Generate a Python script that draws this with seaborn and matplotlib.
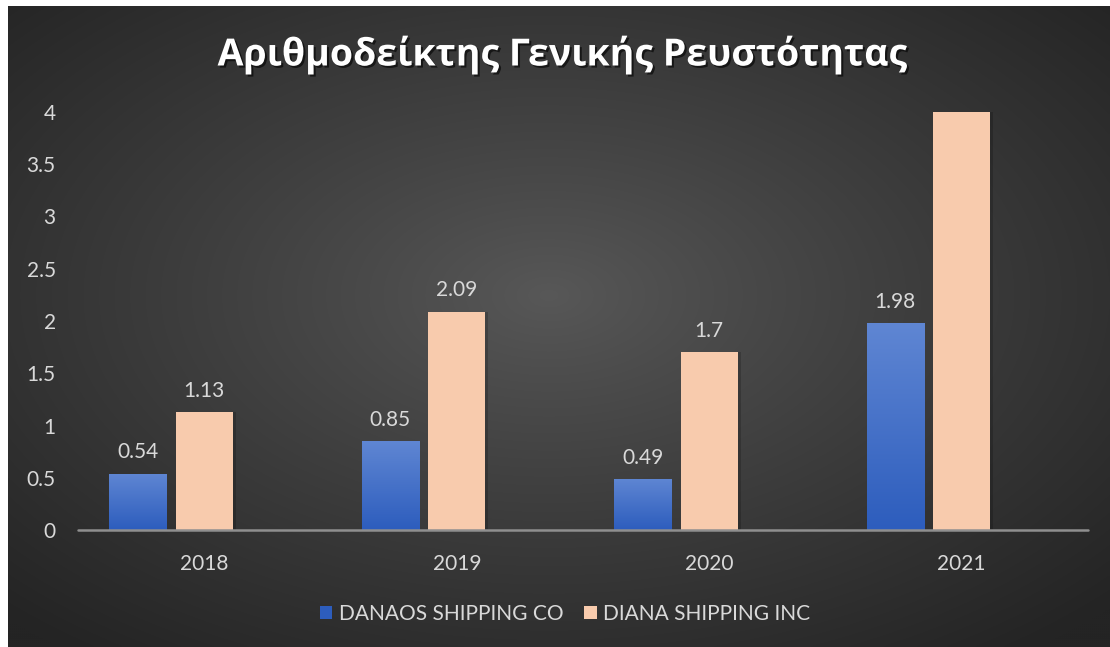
import matplotlib
matplotlib.use("Agg")
import matplotlib.pyplot as plt
import matplotlib.patheffects as pe
from matplotlib.patches import Patch, Rectangle
import seaborn as sns
import numpy as np, pandas as pd

# ---------------- data ----------------
years = ["2018", "2019", "2020", "2021"]
danaos = [0.54, 0.85, 0.49, 1.98]
diana = [1.13, 2.09, 1.70, 4.00]
danaos_labels = ["0.54", "0.85", "0.49", "1.98"]
diana_labels = ["1.13", "2.09", "1.7", ""]
series = ["DANAOS SHIPPING CO", "DIANA SHIPPING INC", "_empty"]
title = "Αριθμοδείκτης Γενικής Ρευστότητας"

BLUE_TOP, BLUE_BOT = "#5f86d3", "#2d5dbd"
PEACH = "#f8cbad"
TXT = "#d9d9d9"

df = pd.DataFrame({
    "Year": years * 2,
    "Series": [series[0]] * len(years) + [series[1]] * len(years),
    "Value": danaos + diana,
})

sns.set_theme(style="white")
plt.rcParams["font.family"] = ["Lato", "DejaVu Sans"]

W, H = 1110, 647
fig = plt.figure(figsize=(W / 100, H / 100), dpi=100)
fig.patch.set_facecolor("white")

# ---------- dark radial background ----------
bg = fig.add_axes([8 / W, 0, 1 - 8 / W, 1 - 6 / H])
bh, bw = 320, 551
yy, xx = np.mgrid[0:bh, 0:bw]
r = np.sqrt(((xx - 0.49 * bw) / bw) ** 2 + ((yy - 0.45 * bh) / bh) ** 2)
v = 88 - 52 * np.clip(r / 0.70, 0, 1) ** 0.9
img = np.dstack([v, v, v]) / 255.0
bg.imshow(img, aspect="auto", extent=[0, 1, 0, 1], origin="upper", interpolation="bicubic")
bg.set_axis_off()

# ---------- bars ----------
ax = fig.add_axes([78 / W, 1 - 530 / H, (1088 - 78) / W, (530 - 112) / H])
ax.set_facecolor("none")
sns.barplot(data=df, x="Year", y="Value", hue="Series", order=years, hue_order=series,
            palette=[BLUE_BOT, PEACH, "#999999"], width=0.79, gap=0.14, saturation=1,
            errorbar=None, legend=False, linewidth=0, ax=ax)

blue_bars = ax.containers[0]
peach_bars = ax.containers[1]

# blue gradient (light top -> darker bottom)
grad = np.linspace(0, 1, 100)[:, None]
c1 = np.array(matplotlib.colors.to_rgb(BLUE_TOP))
c2 = np.array(matplotlib.colors.to_rgb(BLUE_BOT))
gimg = c1[None, None, :] * (1 - grad[:, :, None]) + c2[None, None, :] * grad[:, :, None]
for b in blue_bars:
    x0, y0 = b.get_x(), b.get_y()
    im = ax.imshow(gimg, aspect="auto", extent=[x0, x0 + b.get_width(), y0, y0 + b.get_height()],
                   origin="upper", zorder=b.get_zorder() + 0.1, interpolation="bilinear")
    im.set_clip_path(b)

# soft shadow behind peach bars
for b in peach_bars:
    ax.add_patch(Rectangle((b.get_x() + 0.012, 0), b.get_width(), b.get_height(),
                           color="black", alpha=0.18, lw=0, zorder=b.get_zorder() - 0.1))

ax.bar_label(blue_bars, labels=danaos_labels, padding=8, color=TXT, fontsize=15)
ax.bar_label(peach_bars, labels=diana_labels, padding=8, color=TXT, fontsize=15)

ax.set_ylim(0, 4)
ax.set_xlim(-0.5, 3.5)
ax.set_yticks(np.arange(0, 4.01, 0.5))
ax.set_yticklabels(["0", "0.5", "1", "1.5", "2", "2.5", "3", "3.5", "4"])
ax.tick_params(axis="both", length=0, colors=TXT, labelsize=15)
ax.tick_params(axis="y", pad=16)
ax.tick_params(axis="x", pad=17)
ax.set_xlabel("")
ax.set_ylabel("")
for s in ax.spines.values():
    s.set_visible(False)
ax.axhline(0, color="#8f8f8f", lw=1.8, zorder=5, clip_on=False)
ax.grid(False)

# ---------- title ----------
fig.text(0.506, 1 - 55 / H, title, ha="center", va="center", color="white",
         fontsize=27, fontweight="bold", family=["Open Sans", "DejaVu Sans"],
         path_effects=[pe.withSimplePatchShadow(offset=(1.5, -1.5), shadow_rgbFace="black", alpha=0.6)])

# ---------- legend ----------
handles = [Patch(facecolor=BLUE_BOT, edgecolor="none"), Patch(facecolor=PEACH, edgecolor="none")]
leg = fig.legend(handles, series[:2], loc="center", bbox_to_anchor=(565 / W, 1 - 614 / H),
                 ncol=2, frameon=False, fontsize=15, handlelength=0.6, handleheight=0.6,
                 handletextpad=0.3, columnspacing=1.0)
for t in leg.get_texts():
    t.set_color(TXT)

fig.savefig("out.png", dpi=100)
